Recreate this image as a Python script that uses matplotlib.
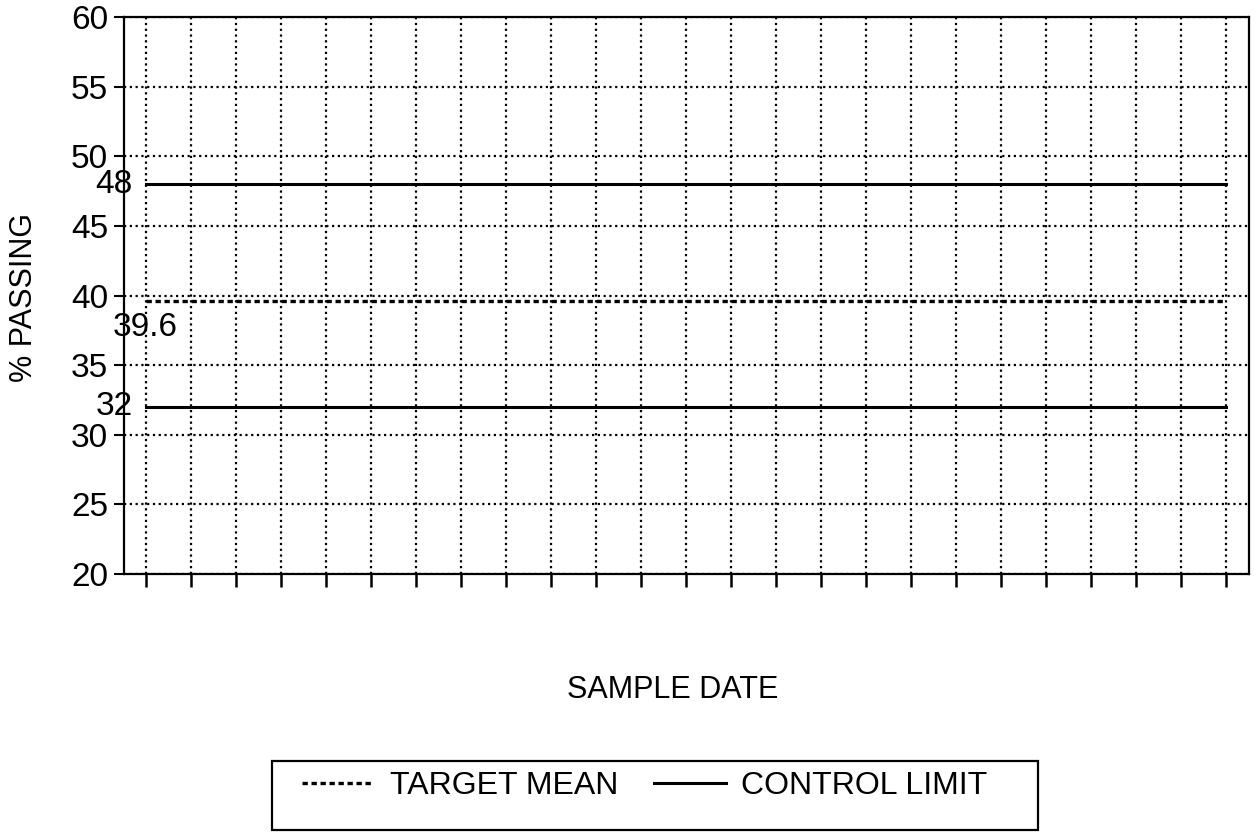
import matplotlib
matplotlib.use("Agg")
import matplotlib.pyplot as plt
from matplotlib.patches import Rectangle

# sample slots along the x axis (dates are not labelled)
sample_pos = list(range(1, 26))
target_mean = 39.6
upper_limit = 48
lower_limit = 32
y_ticks = [20, 25, 30, 35, 40, 45, 50, 55, 60]

plt.rcParams['font.family'] = ['Liberation Sans', 'DejaVu Sans']

fig = plt.figure(figsize=(12.56, 8.32), dpi=100)
ax = fig.add_axes([123.5 / 1256, 1 - 574 / 832, 1125 / 1256, 557 / 832])

ax.plot(sample_pos, [target_mean] * len(sample_pos), color='black',
        linestyle=(0, (1.6, 1.1)), lw=2.4, label='TARGET MEAN', zorder=3)
ax.plot(sample_pos, [upper_limit] * len(sample_pos), color='black',
        lw=2.2, label='CONTROL LIMIT', zorder=3)
ax.plot(sample_pos, [lower_limit] * len(sample_pos), color='black',
        lw=2.2, zorder=3)

ax.set_xlim(0.5, 25.5)
ax.set_ylim(20, 60)
ax.set_xticks(sample_pos)
ax.set_xticklabels([])
ax.set_yticks(y_ticks)
ax.grid(True, color='black', linestyle=(0, (1, 1.6)), lw=1.6)

ax.tick_params(axis='y', labelsize=24, length=7, width=1.5, pad=4)
ax.tick_params(axis='x', length=9, width=1.8)
for s in ax.spines.values():
    s.set_linewidth(1.6)

# value labels at the left end of the lines
ax.text(0.71, upper_limit, '48', fontsize=24, ha='right', va='center', clip_on=False)
ax.text(0.71, lower_limit, '32', fontsize=24, ha='right', va='center', clip_on=False)
ax.text(0.27, 38.85, '39.6', fontsize=24, ha='left', va='top', clip_on=False)

fig.text(24 / 1256, 1 - 297 / 832, '% PASSING', fontsize=22, rotation=90,
         ha='center', va='center')
fig.text(673 / 1256, 1 - 698 / 832, 'SAMPLE DATE', fontsize=22,
         ha='center', va='baseline')

fig.legend(loc='center', bbox_to_anchor=(645 / 1256, 1 - 786 / 832), ncol=2,
           frameon=False, fontsize=23, handlelength=2.25, handletextpad=0.5,
           columnspacing=1.1)
fig.patches.append(Rectangle((272 / 1256, 2 / 832), 766 / 1256, 69 / 832,
                             transform=fig.transFigure, fill=False,
                             edgecolor='black', lw=1.6))

fig.savefig('out.png', dpi=100)
